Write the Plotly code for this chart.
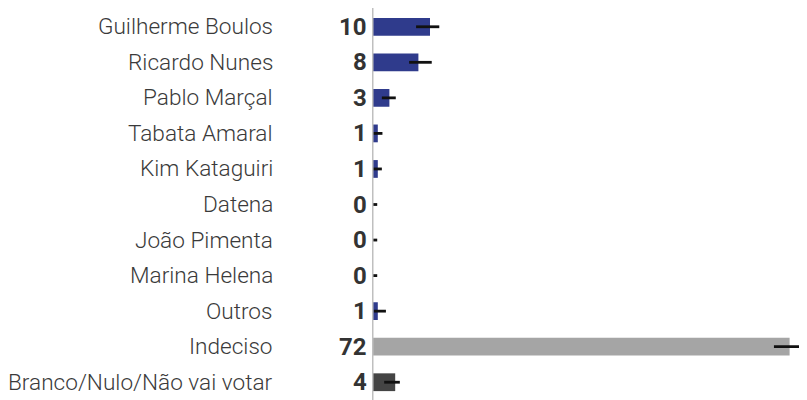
import plotly.graph_objects as go

categories = ["Guilherme Boulos", "Ricardo Nunes", "Pablo Marçal", "Tabata Amaral",
              "Kim Kataguiri", "Datena", "João Pimenta", "Marina Helena", "Outros",
              "Indeciso", "Branco/Nulo/Não vai votar"]
values = [10, 8, 3, 1, 1, 0, 0, 0, 1, 72, 4]
low = [7.6, 6.4, 1.7, 0.2, 0.2, 0.1, 0.1, 0.0, 0.3, 69.3, 2.1]
high = [11.6, 10.3, 4.1, 1.8, 1.7, 0.9, 0.9, 0.9, 2.4, 78.0, 4.8]
labels = ["10", "8", "3", "1", "1", "0", "0", "0", "1", "72", "4"]

BLUE = "#2f3b8c"
colors = [BLUE] * 9 + ["#a5a5a5", "#444444"]

err_plus = [h - v for h, v in zip(high, values)]
err_minus = [max(v - l, 0) for l, v in zip(low, values)]

fig = go.Figure()
fig.add_trace(go.Bar(
    x=values, y=categories, orientation="h",
    marker=dict(color=colors, line=dict(width=0)),
    width=0.5,
    error_x=dict(type="data", symmetric=False, array=err_plus, arrayminus=err_minus,
                 color="#111111", thickness=2.8, width=0),
    hoverinfo="skip",
))

for c, lab in zip(categories, labels):
    fig.add_annotation(x=0, y=c, xref="x", yref="y", text=lab, showarrow=False,
                       xanchor="right", yanchor="middle", xshift=-3,
                       font=dict(family="Roboto", size=24, color="#333333", weight="bold"))
    fig.add_annotation(x=0, y=c, xref="x", yref="y", text=c, showarrow=False,
                       xanchor="right", yanchor="middle", xshift=-97,
                       font=dict(family="Roboto", size=22.6, color="#3a3a3a", weight=300))

fig.add_shape(type="line", xref="x", yref="paper", x0=0, x1=0, y0=-0.03, y1=1.02,
              line=dict(color="#bfbfbf", width=3), layer="above")

fig.update_layout(
    width=807, height=400,
    margin=dict(l=364, r=0, t=1, b=8),
    paper_bgcolor="white", plot_bgcolor="white",
    showlegend=False,
    xaxis=dict(range=[0, 443 / 5.8], showgrid=False, zeroline=False, showticklabels=False,
               showline=False, fixedrange=True),
    yaxis=dict(autorange="reversed", showgrid=False, zeroline=False,
               showticklabels=False, showline=False, fixedrange=True),
    bargap=0.5,
)

fig.write_html("out.html")
